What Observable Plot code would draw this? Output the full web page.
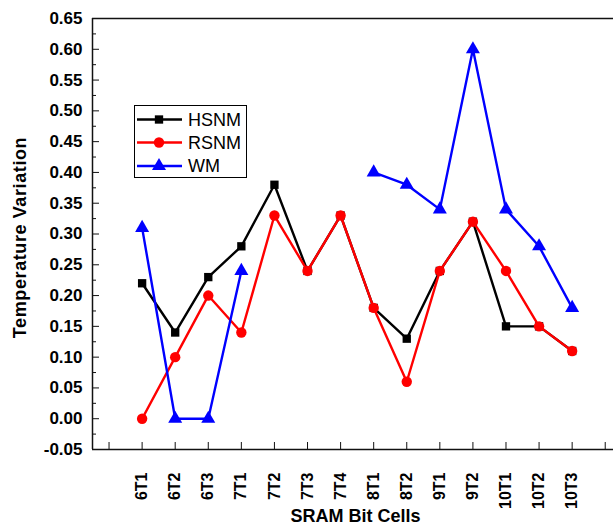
<!DOCTYPE html>
<html>
<head>
<meta charset="utf-8">
<script src="https://cdn.jsdelivr.net/npm/d3@7"></script>
<script src="https://cdn.jsdelivr.net/npm/@observablehq/plot@0.6"></script>
<style>
  html, body { margin: 0; padding: 0; background: #fff; }
  #chart { width: 613px; height: 528px; }
  svg { font-family: "Liberation Sans", Arial, sans-serif; }
</style>
</head>
<body>
<div id="chart"></div>
<script>
const categories = ["6T1","6T2","6T3","7T1","7T2","7T3","7T4","8T1","8T2","9T1","9T2","10T1","10T2","10T3"];
const hsnm = [0.22, 0.14, 0.23, 0.28, 0.38, 0.24, 0.33, 0.18, 0.13, 0.24, 0.32, 0.15, 0.15, 0.11];
const rsnm = [0.00, 0.10, 0.20, 0.14, 0.33, 0.24, 0.33, 0.18, 0.06, 0.24, 0.32, 0.24, 0.15, 0.11];
const wm   = [0.31, 0.00, 0.00, 0.24, null, null, null, 0.40, 0.38, 0.34, 0.60, 0.34, 0.28, 0.18];
const seriesNames = ["HSNM", "RSNM", "WM"];
const seriesColors = ["#000000", "#ff0000", "#0000ff"];
const seriesSymbols = ["square", "circle", "triangle"];
const yTickValues = [-0.05, 0.00, 0.05, 0.10, 0.15, 0.20, 0.25, 0.30, 0.35, 0.40, 0.45, 0.50, 0.55, 0.60, 0.65];
const yTickLabels = ["-0.05","0.00","0.05","0.10","0.15","0.20","0.25","0.30","0.35","0.40","0.45","0.50","0.55","0.60","0.65"];
const yMinorTicks = yTickValues.slice(0, -1).map(v => v + 0.025);
const xTickIndices = d3.range(-1, 15);
const yTitle = "Temperature Variation";
const xTitle = "SRAM Bit Cells";

const seriesValues = [hsnm, rsnm, wm];
const rows = seriesNames.flatMap((name, s) =>
  seriesValues[s].map((v, i) => ({series: name, i, v})));

const xMin = -1.5, xMax = 14.25, yMin = -0.05, yMax = 0.65;
const W = 613, H = 528, mL = 92, mR = 0, mT = 18, mB = 79;
const pxX = (W - mL - mR) / (xMax - xMin);
const pxY = (H - mT - mB) / (yMax - yMin);

const marks = [
  Plot.ruleY([yMin, yMax], {stroke: "#111", strokeWidth: 1.5}),
  Plot.ruleX([xMin], {stroke: "#111", strokeWidth: 1.5}),
  Plot.ruleY(yTickValues, {x1: xMin, x2: xMin + 7 / pxX, stroke: "#111", strokeWidth: 1}),
  Plot.ruleY(yMinorTicks, {x1: xMin, x2: xMin + 4 / pxX, stroke: "#111", strokeWidth: 1}),
  Plot.ruleX(xTickIndices, {y1: yMin, y2: yMin + 7 / pxY, stroke: "#111", strokeWidth: 1}),
  Plot.axisY(yTickValues, {
    tickSize: 0, tickPadding: 10,
    tickFormat: (d, k) => yTickLabels[k],
    fontSize: 17, fontWeight: "bold", label: null, fill: "#000"
  }),
  Plot.axisX(d3.range(categories.length), {
    tickSize: 0, tickPadding: 23, tickRotate: -90,
    tickFormat: d => categories[d],
    fontSize: 16, fontWeight: "bold", label: null, fill: "#000"
  })
];
seriesNames.forEach((name, s) => {
  const data = rows.filter(d => d.series === name);
  marks.push(Plot.line(data, {x: "i", y: "v", stroke: seriesColors[s], strokeWidth: 2.4}));
  marks.push(Plot.dot(data.filter(d => d.v != null), {
    x: "i", y: "v", symbol: seriesSymbols[s], fill: seriesColors[s], stroke: "none",
    r: s === 0 ? 4.7 : 5.2
  }));
});

const plot = Plot.plot({
  width: W, height: H,
  marginLeft: mL, marginRight: mR, marginTop: mT, marginBottom: mB,
  x: {type: "linear", domain: [xMin, xMax], axis: null},
  y: {domain: [yMin, yMax], axis: null},
  style: {fontFamily: "'Liberation Sans', Arial, sans-serif", background: "#fff", overflow: "visible"},
  marks
});
document.getElementById("chart").appendChild(plot);

// axis titles and legend
const svg = d3.select(plot);
svg.append("text")
  .attr("transform", `translate(26,${(mT + H - mB) / 2 + 4}) rotate(-90)`)
  .attr("text-anchor", "middle")
  .attr("font-size", 18).attr("font-weight", "bold").attr("letter-spacing", 0.6)
  .attr("fill", "#000")
  .text(yTitle);
svg.append("text")
  .attr("x", (mL + W - mR) / 2 + 3).attr("y", 522)
  .attr("text-anchor", "middle")
  .attr("font-size", 18).attr("font-weight", "bold")
  .attr("fill", "#000")
  .text(xTitle);

const lg = svg.append("g");
lg.append("rect").attr("x", 134.5).attr("y", 105.5).attr("width", 112).attr("height", 72)
  .attr("fill", "#fff").attr("stroke", "#000").attr("stroke-width", 1);
const rowY = [119.5, 142.5, 166];
const symTypes = [d3.symbolSquare, d3.symbolCircle, d3.symbolTriangle];
seriesNames.forEach((name, s) => {
  const y = rowY[s];
  lg.append("line").attr("x1", 137).attr("x2", 182).attr("y1", y).attr("y2", y)
    .attr("stroke", seriesColors[s]).attr("stroke-width", 2.4);
  const r = s === 0 ? 4.7 : 5.2;
  lg.append("path").attr("d", d3.symbol(symTypes[s], Math.PI * r * r)())
    .attr("transform", `translate(159,${y})`).attr("fill", seriesColors[s]);
  lg.append("text").attr("x", 188).attr("y", y).attr("dy", "0.36em")
    .attr("text-anchor", "start")
    .attr("font-size", 18).attr("fill", "#000").text(name);
});
</script>
</body>
</html>
